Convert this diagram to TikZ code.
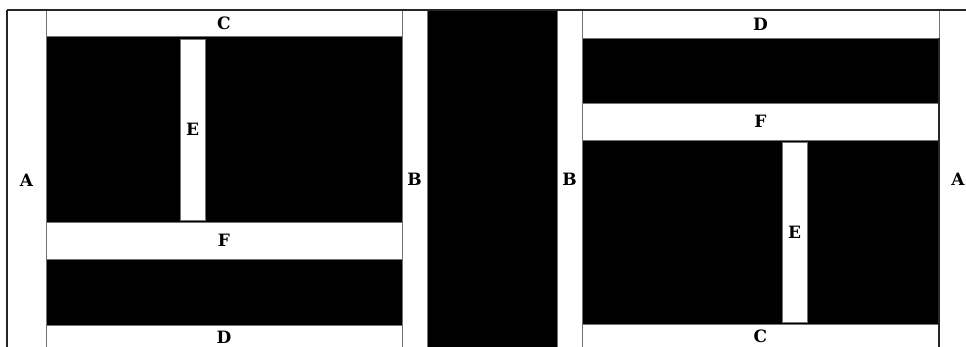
\documentclass[tikz,border=0pt]{standalone}
\usepackage{fontspec}
\setmainfont{DejaVu Serif}
\usepackage{tikz}
\usetikzlibrary{positioning}
\newcommand{\lbl}{\fontsize{17}{20}\selectfont\bfseries}

\begin{document}
\begin{tikzpicture}[x=1pt,y=-1pt,
    strip/.style={draw=black!55,fill=white,line width=0.6pt,inner sep=0pt,
                  outer sep=0pt,font=\lbl},
    slab/.style={draw=black!55,fill=black,line width=0.6pt,inner sep=0pt,
                 outer sep=0pt},
    side/.style={inner sep=0pt,font=\lbl},
    frame/.style={line width=1.6pt,black!85}
  ]
    \path[use as bounding box] (0,0) rectangle (966,347);
    \clip (0,0) rectangle (966,347);
    % left panel
    \node[slab,minimum width=356,minimum height=185.5] (k1) at (224,129.25) {};
    \node[slab,minimum width=356,minimum height=66] (k2) at (224,292) {};
    \node[strip,minimum width=356,minimum height=26.5] (c1) at (224,23.25) {C};
    \node[strip,minimum width=25,minimum height=181.5] (e1) at (192.5,129.75) {E};
    \node[strip,minimum width=356,minimum height=37] (f1) at (224,240.5) {F};
    \node[strip,minimum width=356,minimum height=24] (d1) at (224,337) {D};
    % middle
    \node[strip,minimum width=25,minimum height=339] (b1) at (414.5,179.5) {B};
    \node[slab,minimum width=130,minimum height=339] (m) at (492,179.5) {};
    \node[strip,minimum width=25,minimum height=339] (b2) at (569.5,179.5) {B};
    % right panel
    \node[slab,minimum width=357,minimum height=65] (k3) at (760.5,70.5) {};
    \node[slab,minimum width=357,minimum height=183.5] (k4) at (760.5,232.25) {};
    \node[strip,minimum width=357,minimum height=28] (d2) at (760.5,24) {D};
    \node[strip,minimum width=357,minimum height=37.5] (f2) at (760.5,121.75) {F};
    \node[strip,minimum width=25,minimum height=180] (e2) at (794.5,232) {E};
    \node[strip,minimum width=357,minimum height=25] (c2) at (760.5,336.5) {C};
    % outer labels
    \node[side] (a1) at (26.5,180) {A};
    \node[side] (a2) at (958,179) {A};
    \draw[frame] (7,10) -- (966,10);
    \draw[frame] (7,10) -- (7,347);
    \draw[frame] (k3.north east) -- (c2.south east);
\end{tikzpicture}
\end{document}
